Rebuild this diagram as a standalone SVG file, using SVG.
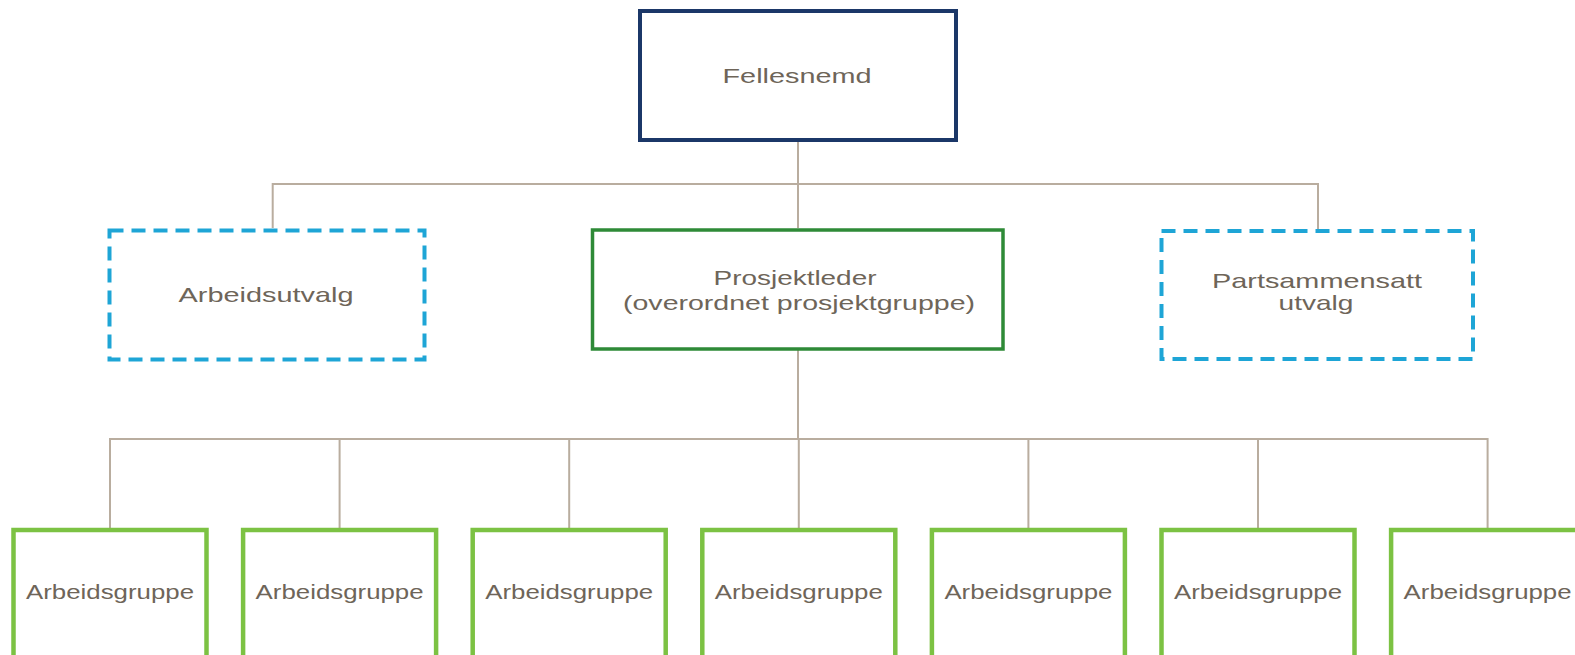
<svg xmlns="http://www.w3.org/2000/svg" width="1575" height="655" viewBox="0 0 1575 655">
<style>
.lbl{font-family:"Liberation Sans",Arial,sans-serif;font-size:21px;fill:#6e6559;text-anchor:middle}
.top{fill:#fff;stroke:#1b3768;stroke-width:4}
.dash{fill:#fff;stroke:#1ea5d6;stroke-width:4;stroke-dasharray:14 8}
.pl{fill:#fff;stroke:#2e8a37;stroke-width:3.5}
.ag{fill:#fff;stroke:#7cc243;stroke-width:4.5}
.con{fill:none;stroke:#b9ad9f;stroke-width:2}
</style>
<rect width="1575" height="655" fill="#fff"/>
<g id="connectors">
<path class="con" d="M798 141V184M272.7 228V184H1318V229M798 184V228"/>
<path class="con" d="M798 350V439M110 528V439H1487.6V528M339.6 439V528M569.2 439V528M798.8 439V528M1028.4 439V528M1258 439V528"/>
</g>
<g id="fellesnemd">
<rect class="top" x="640" y="11" width="316" height="129"/>
<text class="lbl" x="797" y="83" textLength="149" lengthAdjust="spacingAndGlyphs">Fellesnemd</text>
</g>
<g id="arbeidsutvalg">
<rect class="dash" x="109.5" y="230.5" width="315" height="129"/>
<text class="lbl" x="266" y="302" textLength="175" lengthAdjust="spacingAndGlyphs">Arbeidsutvalg</text>
</g>
<g id="prosjektleder">
<rect class="pl" x="592.5" y="230" width="410.5" height="119"/>
<text class="lbl" x="795" y="285" textLength="163" lengthAdjust="spacingAndGlyphs">Prosjektleder</text>
<text class="lbl" x="799" y="310" textLength="352" lengthAdjust="spacingAndGlyphs">(overordnet prosjektgruppe)</text>
</g>
<g id="partsammensatt">
<rect class="dash" x="1161.5" y="231" width="311.5" height="128"/>
<text class="lbl" x="1317" y="288" textLength="210" lengthAdjust="spacingAndGlyphs">Partsammensatt</text>
<text class="lbl" x="1316" y="310" textLength="75" lengthAdjust="spacingAndGlyphs">utvalg</text>
</g>
<g id="ag1"><rect class="ag" x="13.5" y="530" width="193" height="135"/><text class="lbl" x="110" y="599" textLength="168" lengthAdjust="spacingAndGlyphs">Arbeidsgruppe</text></g>
<g id="ag2"><rect class="ag" x="243.1" y="530" width="193" height="135"/><text class="lbl" x="339.6" y="599" textLength="168" lengthAdjust="spacingAndGlyphs">Arbeidsgruppe</text></g>
<g id="ag3"><rect class="ag" x="472.7" y="530" width="193" height="135"/><text class="lbl" x="569.2" y="599" textLength="168" lengthAdjust="spacingAndGlyphs">Arbeidsgruppe</text></g>
<g id="ag4"><rect class="ag" x="702.3" y="530" width="193" height="135"/><text class="lbl" x="798.8" y="599" textLength="168" lengthAdjust="spacingAndGlyphs">Arbeidsgruppe</text></g>
<g id="ag5"><rect class="ag" x="931.9" y="530" width="193" height="135"/><text class="lbl" x="1028.4" y="599" textLength="168" lengthAdjust="spacingAndGlyphs">Arbeidsgruppe</text></g>
<g id="ag6"><rect class="ag" x="1161.5" y="530" width="193" height="135"/><text class="lbl" x="1258" y="599" textLength="168" lengthAdjust="spacingAndGlyphs">Arbeidsgruppe</text></g>
<g id="ag7"><rect class="ag" x="1391.1" y="530" width="193" height="135"/><text class="lbl" x="1487.6" y="599" textLength="168" lengthAdjust="spacingAndGlyphs">Arbeidsgruppe</text></g>
</svg>
